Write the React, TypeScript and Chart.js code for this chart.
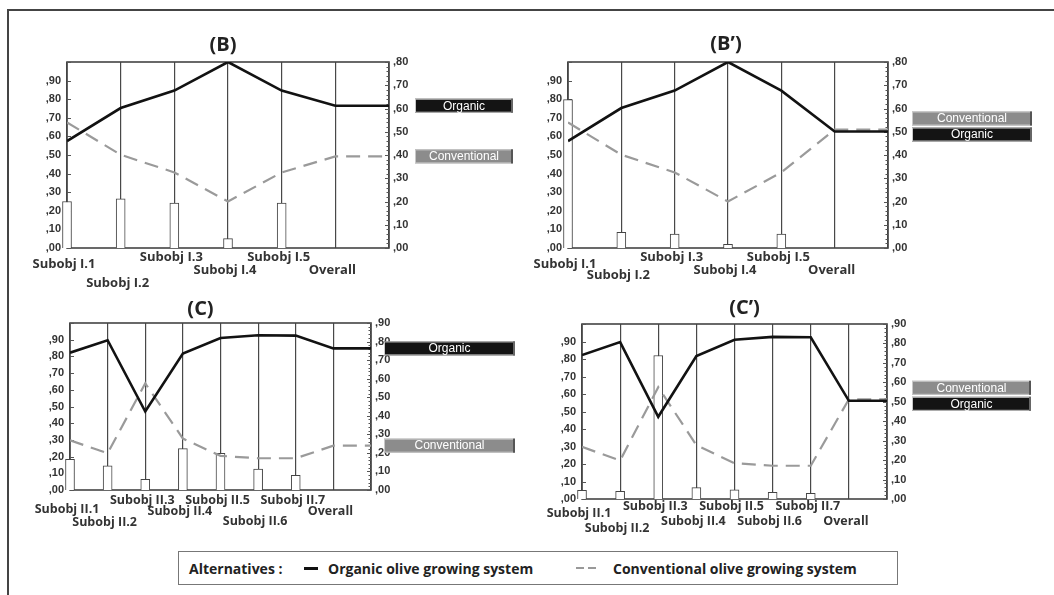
import React, { useEffect, useRef } from "react";
import { Chart, registerables } from "chart.js";
Chart.register(...registerables);

// ---------------- data ----------------
const categoriesI = ["Subobj I.1", "Subobj I.2", "Subobj I.3", "Subobj I.4", "Subobj I.5", "Overall"];
const categoriesII = ["Subobj II.1", "Subobj II.2", "Subobj II.3", "Subobj II.4", "Subobj II.5", "Subobj II.6", "Subobj II.7", "Overall"];

// panel (B)
const weightsB = [0.25, 0.265, 0.242, 0.05, 0.242];
const organicB = [0.46, 0.602, 0.677, 0.8, 0.677, 0.612];
const conventionalB = [0.54, 0.401, 0.325, 0.2, 0.325, 0.394];

// panel (B')
const weightsBp = [0.798, 0.084, 0.075, 0.02, 0.075];
const organicBp = [0.46, 0.602, 0.677, 0.8, 0.677, 0.501];
const conventionalBp = [0.54, 0.401, 0.325, 0.2, 0.325, 0.509];

// panel (C)
const weightsC = [0.184, 0.144, 0.064, 0.248, 0.22, 0.126, 0.088];
const organicC = [0.74, 0.807, 0.423, 0.735, 0.819, 0.834, 0.832, 0.763];
const conventionalC = [0.268, 0.198, 0.575, 0.277, 0.184, 0.171, 0.171, 0.239];

// panel (C')
const weightsCp = [0.05, 0.044, 0.82, 0.065, 0.053, 0.038, 0.032];
const organicCp = [0.74, 0.807, 0.423, 0.735, 0.819, 0.834, 0.832, 0.505];
const conventionalCp = [0.268, 0.198, 0.575, 0.277, 0.184, 0.171, 0.171, 0.513];

const leftTickLabels = [",00", ",10", ",20", ",30", ",40", ",50", ",60", ",70", ",80", ",90"];
const rightTickLabels = [",00", ",10", ",20", ",30", ",40", ",50", ",60", ",70", ",80", ",90"];

const altNames = ["Organic", "Conventional"];
const legendTitle = "Alternatives :";
const legendNames = ["Organic olive growing system", "Conventional olive growing system"];

// ---------------- layout ----------------
const AXIS_L = 40;
const AXIS_R = 30;
const PAD_T = 40;
const PAD_B = 45;
const PAD_R = 150;

type Panel = {
  title: string;
  cats: string[];
  weights: number[];
  organic: number[];
  conventional: number[];
  rightMax: number;
  l: number; t: number; r: number; b: number;
  rows: number[];
  labelFont: number;
  titleDx: number;
  titleDy: number;
  boxDx: number;
  boxW: number;
};

const panels: Panel[] = [
  { title: "(B)", cats: categoriesI, weights: weightsB, organic: organicB, conventional: conventionalB, rightMax: 0.8,
    l: 67, t: 62, r: 389, b: 248, rows: [16, 35, 9, 22, 9, 22], labelFont: 13, titleDx: -5, titleDy: -17, boxDx: 26, boxW: 98 },
  { title: "(B\u2019)", cats: categoriesI, weights: weightsBp, organic: organicBp, conventional: conventionalBp, rightMax: 0.8,
    l: 568, t: 62, r: 888, b: 248, rows: [16, 27, 9, 22, 9, 22], labelFont: 13, titleDx: -2, titleDy: -18, boxDx: 24, boxW: 120 },
  { title: "(C)", cats: categoriesII, weights: weightsC, organic: organicC, conventional: conventionalC, rightMax: 0.9,
    l: 70, t: 323, r: 371, b: 490, rows: [19, 32, 10, 21, 10, 31, 10, 21], labelFont: 12.5, titleDx: -20, titleDy: -14, boxDx: 13, boxW: 131 },
  { title: "(C\u2019)", cats: categoriesII, weights: weightsCp, organic: organicCp, conventional: conventionalCp, rightMax: 0.9,
    l: 582, t: 324, r: 887, b: 499, rows: [14, 29, 7, 22, 7, 22, 7, 22], labelFont: 12.5, titleDx: 10, titleDy: -16, boxDx: 25, boxW: 119 },
];

const TICK_FONT = '"Liberation Sans Narrow", "Liberation Sans", Arial, sans-serif';
const LABEL_FONT = '"Open Sans", "Noto Sans", sans-serif';

function isMajor(v: number) {
  return Math.round(v * 100) % 10 === 0;
}
function tickIndex(v: number) {
  return Math.round(v * 10);
}

function PanelChart({ p }: { p: Panel }) {
  const ref = useRef<HTMLCanvasElement | null>(null);
  const width = p.r - p.l + AXIS_L + AXIS_R + PAD_R;
  const height = p.b - p.t + PAD_T + PAD_B;

  useEffect(() => {
    const canvas = ref.current;
    if (!canvas) return;
    const n = p.cats.length;
    const bars = p.weights.map((w, i) => ({ x: i, y: w }));
    const line = (arr: number[]) => [...arr.map((v, i) => ({ x: i, y: v })), { x: n, y: arr[arr.length - 1] }];

    const deco = {
      id: "deco",
      beforeDatasetsDraw(chart: any) {
        const { ctx, chartArea: a } = chart;
        const yL = chart.scales.yL;
        const yR = chart.scales.yR;
        ctx.save();
        ctx.strokeStyle = "#444";
        ctx.lineWidth = 1.6;
        ctx.strokeRect(a.left, a.top, a.right - a.left, a.bottom - a.top);
        ctx.lineWidth = 1;
        ctx.strokeStyle = "#555";
        ctx.beginPath();
        for (const t of yL.ticks) {
          const y = Math.round(yL.getPixelForValue(t.value)) + 0.5;
          ctx.moveTo(a.left, y);
          ctx.lineTo(a.left + 4, y);
        }
        for (const t of yR.ticks) {
          const y = Math.round(yR.getPixelForValue(t.value)) + 0.5;
          const len = isMajor(t.value) ? 4 : 2.5;
          ctx.moveTo(a.right - len, y);
          ctx.lineTo(a.right, y);
        }
        ctx.stroke();
        ctx.restore();
      },
      afterDraw(chart: any) {
        const { ctx, chartArea: a } = chart;
        const xs = chart.scales.x;
        const yR = chart.scales.yR;
        ctx.save();
        // title
        ctx.fillStyle = "#222";
        ctx.font = `bold 20px ${LABEL_FONT}`;
        ctx.textAlign = "center";
        ctx.textBaseline = "middle";
        ctx.fillText(p.title, (a.left + a.right) / 2 + p.titleDx, a.top + p.titleDy);
        // category labels
        ctx.fillStyle = "#333";
        ctx.font = `bold ${p.labelFont}px ${LABEL_FONT}`;
        p.cats.forEach((c, i) => {
          ctx.fillText(c, xs.getPixelForValue(i) - 3, a.bottom + p.rows[i]);
        });
        // alternative boxes at overall values
        const h = 14;
        const vo = p.organic[p.organic.length - 1];
        const vc = p.conventional[p.conventional.length - 1];
        let yo = yR.getPixelForValue(vo);
        let yc = yR.getPixelForValue(vc);
        if (Math.abs(yo - yc) < h + 2) {
          if (vo >= vc) { yc = yc + 3; yo = yc - (h + 2); }
          else { yo = yo + 3; yc = yo - (h + 2); }
        }
        const bx = a.right + p.boxDx;
        const drawBox = (y: number, fill: string, edge: string, text: string) => {
          ctx.fillStyle = fill;
          ctx.fillRect(bx, y - h / 2, p.boxW, h);
          ctx.strokeStyle = "#c8c8c8";
          ctx.lineWidth = 1;
          ctx.strokeRect(bx + 0.5, y - h / 2 + 0.5, p.boxW - 1, h - 1);
          ctx.fillStyle = edge;
          ctx.fillRect(bx + p.boxW - 2, y - h / 2, 2, h);
          ctx.fillStyle = "#fff";
          ctx.font = `12px ${TICK_FONT}`;
          ctx.textAlign = "center";
          ctx.fillText(text, bx + p.boxW / 2, y + 0.5);
        };
        drawBox(yo, "#141414", "#666", altNames[0]);
        drawBox(yc, "#8c8c8c", "#555", altNames[1]);
        ctx.restore();
      },
    };

    const chart = new Chart(canvas, {
      type: "bar",
      data: {
        datasets: [
          {
            type: "line",
            label: altNames[0],
            data: line(p.organic),
            yAxisID: "yR",
            xAxisID: "x",
            borderColor: "#121212",
            borderWidth: 2.6,
            pointRadius: 0,
            tension: 0,
            order: 1,
          } as any,
          {
            type: "line",
            label: altNames[1],
            data: line(p.conventional),
            yAxisID: "yR",
            xAxisID: "x",
            borderColor: "#9a9a9a",
            borderWidth: 2.2,
            borderDash: [14, 8],
            pointRadius: 0,
            tension: 0,
            order: 2,
          } as any,
          {
            type: "bar",
            label: "weights",
            data: bars,
            yAxisID: "yL",
            xAxisID: "x",
            backgroundColor: "#ffffff",
            borderColor: "#444",
            borderWidth: 1,
            barThickness: 9,
            clip: false,
            order: 3,
          } as any,
        ],
      },
      options: {
        responsive: false,
        animation: false,
        devicePixelRatio: 1,
        layout: { padding: { top: PAD_T, bottom: PAD_B, right: PAD_R, left: 0 } },
        plugins: { legend: { display: false }, title: { display: false }, tooltip: { enabled: false } },
        scales: {
          x: {
            type: "linear",
            offset: false,
            min: 0,
            max: n,
            ticks: { stepSize: 1, display: false },
            grid: { color: "#484848", lineWidth: 1.2, drawTicks: false, offset: false },
            border: { display: false },
            afterFit: (s: any) => { s.height = 0; },
          },
          yL: {
            type: "linear",
            position: "left",
            min: 0,
            max: 1,
            ticks: {
              stepSize: 0.1,
              autoSkip: false,
              padding: 6,
              color: "#333",
              font: { family: TICK_FONT, size: 11, weight: "bold" },
              callback: (v: any) => (v > 0.95 ? "" : leftTickLabels[tickIndex(v)]),
            },
            grid: { display: false, drawTicks: false },
            border: { display: false },
            afterFit: (s: any) => { s.width = AXIS_L; },
          },
          yR: {
            type: "linear",
            position: "right",
            min: 0,
            max: p.rightMax,
            ticks: {
              stepSize: 0.02,
              maxTicksLimit: 100,
              autoSkip: false,
              padding: 4,
              color: "#333",
              font: { family: TICK_FONT, size: 11, weight: "bold" },
              callback: (v: any) => (isMajor(v) ? rightTickLabels[tickIndex(v)] : ""),
            },
            grid: { display: false, drawTicks: false },
            border: { display: false },
            afterFit: (s: any) => { s.width = AXIS_R; },
          },
        },
      } as any,
      plugins: [deco],
    });
    return () => chart.destroy();
  }, [p]);

  return (
    <canvas
      ref={ref}
      width={width}
      height={height}
      style={{ position: "absolute", left: p.l - AXIS_L, top: p.t - PAD_T, width, height }}
    />
  );
}

export default function App() {
  return (
    <div style={{ position: "absolute", left: 0, top: 0, width: 1054, height: 595, background: "#fff", overflow: "hidden" }}>
      <div style={{ position: "absolute", left: 7, top: 9, width: 1100, height: 700, borderTop: "2px solid #444", borderLeft: "2px solid #444" }} />
      {panels.map((p, i) => (
        <PanelChart key={i} p={p} />
      ))}
      <div
        style={{
          position: "absolute",
          left: 178,
          top: 551,
          width: 718,
          height: 32,
          border: "1px solid #777",
          fontFamily: LABEL_FONT,
          fontWeight: "bold",
          fontSize: 14,
          color: "#222",
        }}
      >
        <span style={{ position: "absolute", left: 10, top: 7 }}>{legendTitle}</span>
        <span style={{ position: "absolute", left: 125, top: 15, width: 14, height: 3, background: "#111" }} />
        <span style={{ position: "absolute", left: 149, top: 7 }}>{legendNames[0]}</span>
        <span style={{ position: "absolute", left: 397, top: 15, width: 8, height: 2, background: "#999" }} />
        <span style={{ position: "absolute", left: 409, top: 15, width: 8, height: 2, background: "#999" }} />
        <span style={{ position: "absolute", left: 434, top: 7 }}>{legendNames[1]}</span>
      </div>
    </div>
  );
}
